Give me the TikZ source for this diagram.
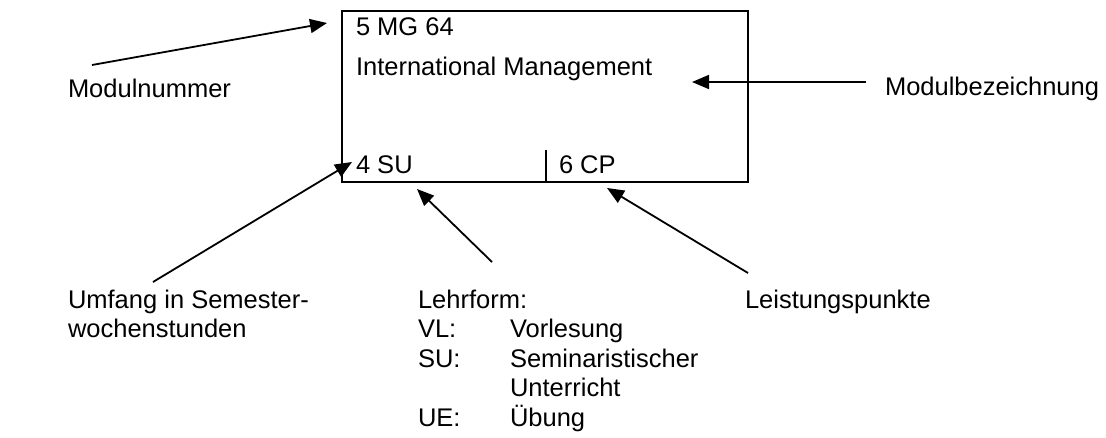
\documentclass[tikz,border=0pt]{standalone}
\usepackage{fontspec}
\setmainfont{Liberation Sans}
\usetikzlibrary{arrows.meta}
\begin{document}
\begin{tikzpicture}[x=1pt,y=-1pt,
  txt/.style={anchor=base west,inner sep=0pt,outer sep=0pt,font=\fontsize{25.5}{29.5}\selectfont},
  boxline/.style={line width=2.2pt},
  pointer/.style={line width=1.8pt,-{Triangle[length=17pt,width=14pt]}}]
\useasboundingbox (0,0) rectangle (1106,437);
% module box
\draw[boxline] (342,11) rectangle (748,182);
\coordinate (dtop) at (546,150);
\coordinate (dbot) at (546,182);
\draw[line width=1.6pt] (dtop) -- (dbot);
\node[txt] (nr) at (356,35) {5 MG 64};
\node[txt] (name) at (356,75.5) {International Management};
\node[txt] (sws) at (356,173) {4 SU};
\node[txt] (cp) at (559,173) {6 CP};
% labels
\node[txt] (lnr) at (68,97) {Modulnummer};
\node[txt] (lbez) at (885,95) {Modulbezeichnung};
\node[txt] (lumf1) at (68,308) {Umfang in Semester-};
\node[txt] (lumf2) at (68,337) {wochenstunden};
\node[txt] (llehr) at (418,308) {Lehrform:};
\node[txt] (vl) at (418,337) {VL:};
\node[txt] (vlt) at (510,337) {Vorlesung};
\node[txt] (su) at (418,367) {SU:};
\node[txt] (sut) at (510,367) {Seminaristischer};
\node[txt] (sut2) at (510,396) {Unterricht};
\node[txt] (ue) at (418,426) {UE:};
\node[txt] (uet) at (510,426) {Übung};
\node[txt] (lcp) at (745,308) {Leistungspunkte};
% arrow end points
\coordinate (a1s) at (92,65);   \coordinate (a1e) at (327,23);
\coordinate (a2s) at (866,82);  \coordinate (a2e) at (692,82);
\coordinate (a3s) at (153,282); \coordinate (a3e) at (352,162);
\coordinate (a4s) at (492,262); \coordinate (a4e) at (417,189);
\coordinate (a5s) at (748,273); \coordinate (a5e) at (607,188);
\draw[pointer] (a1s) -- (a1e);
\draw[pointer] (a2s) -- (a2e);
\draw[pointer] (a3s) -- (a3e);
\draw[pointer] (a4s) -- (a4e);
\draw[pointer] (a5s) -- (a5e);
\end{tikzpicture}
\end{document}
